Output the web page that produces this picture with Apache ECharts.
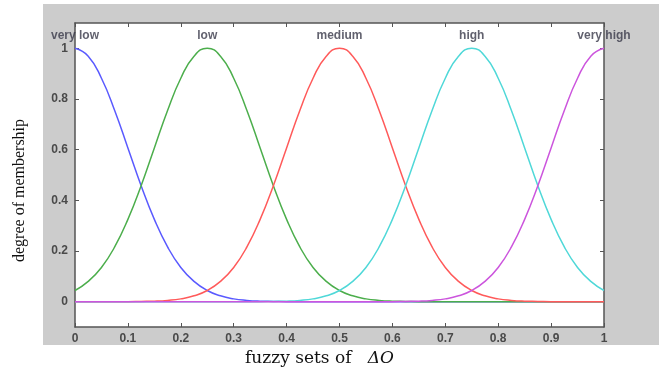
<!DOCTYPE html>
<html>
<head>
<meta charset="utf-8">
<script src="https://cdn.jsdelivr.net/npm/echarts@6/dist/echarts.min.js"></script>
<style>
  html, body { margin: 0; padding: 0; background: #fff; }
  #chart { width: 659px; height: 376px; }
</style>
</head>
<body>
<div id="chart"></div>
<script>
// x positions of the sampled points (0 .. 1, step 0.025)
const xs = [0, 0.025, 0.05, 0.075, 0.1, 0.125, 0.15, 0.175, 0.2, 0.225,
  0.25, 0.275, 0.3, 0.325, 0.35, 0.375, 0.4, 0.425, 0.45, 0.475,
  0.5, 0.525, 0.55, 0.575, 0.6, 0.625, 0.65, 0.675, 0.7, 0.725,
  0.75, 0.775, 0.8, 0.825, 0.85, 0.875, 0.9, 0.925, 0.95, 0.975, 1];

// membership values
const veryLow = [1, 0.969, 0.882, 0.755, 0.607, 0.458, 0.325, 0.216, 0.135, 0.08,
  0.044, 0.023, 0.011, 0.005, 0.002, 0.001, 0, 0, 0, 0,
  0, 0, 0, 0, 0, 0, 0, 0, 0, 0,
  0, 0, 0, 0, 0, 0, 0, 0, 0, 0, 0];
const low = [0.044, 0.08, 0.135, 0.216, 0.325, 0.458, 0.607, 0.755, 0.882, 0.969,
  1, 0.969, 0.882, 0.755, 0.607, 0.458, 0.325, 0.216, 0.135, 0.08,
  0.044, 0.023, 0.011, 0.005, 0.002, 0.001, 0, 0, 0, 0,
  0, 0, 0, 0, 0, 0, 0, 0, 0, 0, 0];
const medium = [0, 0, 0, 0, 0, 0.001, 0.002, 0.005, 0.011, 0.023,
  0.044, 0.08, 0.135, 0.216, 0.325, 0.458, 0.607, 0.755, 0.882, 0.969,
  1, 0.969, 0.882, 0.755, 0.607, 0.458, 0.325, 0.216, 0.135, 0.08,
  0.044, 0.023, 0.011, 0.005, 0.002, 0.001, 0, 0, 0, 0, 0];
const high = [0, 0, 0, 0, 0, 0, 0, 0, 0, 0,
  0, 0, 0, 0, 0, 0.001, 0.002, 0.005, 0.011, 0.023,
  0.044, 0.08, 0.135, 0.216, 0.325, 0.458, 0.607, 0.755, 0.882, 0.969,
  1, 0.969, 0.882, 0.755, 0.607, 0.458, 0.325, 0.216, 0.135, 0.08, 0.044];
const veryHigh = [0, 0, 0, 0, 0, 0, 0, 0, 0, 0,
  0, 0, 0, 0, 0, 0, 0, 0, 0, 0,
  0, 0, 0, 0, 0, 0.001, 0.002, 0.005, 0.011, 0.023,
  0.044, 0.08, 0.135, 0.216, 0.325, 0.458, 0.607, 0.755, 0.882, 0.969, 1];

const setNames = ["very low", "low", "medium", "high", "very high"];
const setCenters = [0, 0.25, 0.5, 0.75, 1];
const labelLevel = 1.05;

const xTicks = [0, 0.1, 0.2, 0.3, 0.4, 0.5, 0.6, 0.7, 0.8, 0.9, 1];
const yTicks = [0, 0.2, 0.4, 0.6, 0.8, 1];

const curves = [veryLow, low, medium, high, veryHigh];
const colors = ["#5a5aff", "#4cae4c", "#ff5a5a", "#4fd8d8", "#cc55dd"];

const chart = echarts.init(document.getElementById("chart"));

const axisCol = "#555";
const tickLabel = { color: "#4a4a4a", fontSize: 12, fontWeight: "bold", fontFamily: "Arial, Liberation Sans, sans-serif" };

// one boxed axis side
function side(kind, pos, labels, ticks) {
  return {
    type: "value",
    min: kind === "x" ? 0 : -0.1,
    max: kind === "x" ? 1 : 1.1,
    position: pos,
    axisLine: { show: true, onZero: false, lineStyle: { color: axisCol, width: 1.5 } },
    axisTick: { show: true, inside: true, length: 4, customValues: ticks, lineStyle: { color: axisCol } },
    axisLabel: labels ? { ...tickLabel, margin: kind === "x" ? 6 : 7, customValues: ticks } : { show: false },
    splitLine: { show: false }
  };
}

const option = {
  animation: false,
  graphic: [
    {
      type: "rect", z: -10, silent: true,
      shape: { x: 43, y: 4, width: 616, height: 341 },
      style: { fill: "#cccccc" }
    },
    {
      type: "text", left: 245, top: 350,
      style: {
        text: "fuzzy sets of   {i|ΔO}",
        font: "17px 'DejaVu Serif', serif",
        fill: "#111",
        rich: { i: { font: "italic 17px 'DejaVu Serif', serif", fill: "#111" } }
      }
    },
    {
      type: "text", x: 12, y: 262, rotation: Math.PI / 2,
      style: {
        text: "degree of membership",
        font: "16px 'Liberation Serif', 'DejaVu Serif', serif",
        fill: "#111"
      }
    }
  ],
  grid: { left: 75, top: 23, right: 55, bottom: 49, show: true, backgroundColor: "#fff", borderWidth: 0 },
  xAxis: [side("x", "bottom", true, xTicks), side("x", "top", false, xTicks)],
  yAxis: [side("y", "left", true, yTicks), side("y", "right", false, yTicks)],
  series: [
    ...curves.map((vals, k) => ({
      name: setNames[k],
      type: "line",
      smooth: true,
      showSymbol: false,
      symbol: "none",
      data: xs.map((x, i) => [x, vals[i]]),
      lineStyle: { color: colors[k], width: 1.5 },
      z: 2 + k
    })),
    {
      type: "scatter",
      symbolSize: 0,
      clip: false,
      silent: true,
      data: setCenters.map((c, k) => ({ value: [c, labelLevel], name: setNames[k] })),
      label: {
        show: true, position: "inside",
        formatter: (p) => p.name,
        color: "#3a3a4a", fontSize: 12, fontWeight: "bold",
        fontFamily: "Arial, Liberation Sans, sans-serif"
      },
      z: 10
    }
  ]
};

chart.setOption(option);
</script>
</body>
</html>
